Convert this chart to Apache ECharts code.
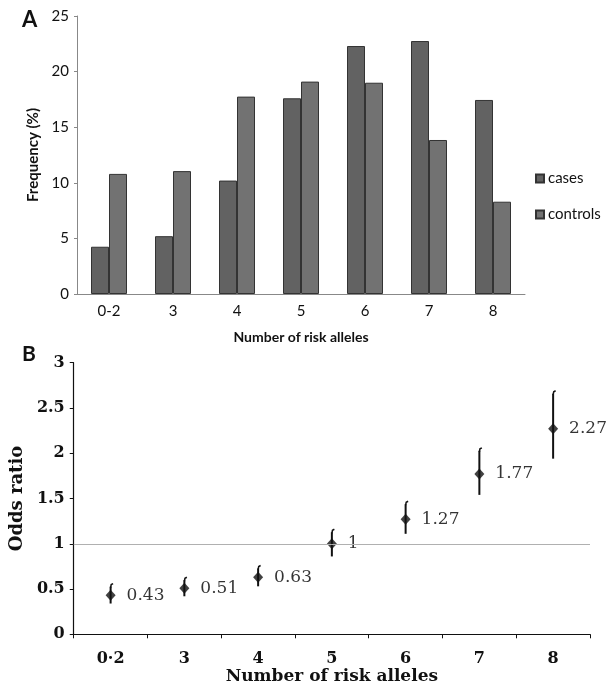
<!DOCTYPE html>
<html>
<head>
<meta charset="utf-8">
<script src="https://cdn.jsdelivr.net/npm/echarts@6/dist/echarts.min.js"></script>
<style>
html,body{margin:0;padding:0;background:#fff;}
#chart{width:611px;height:694px;}
</style>
</head>
<body>
<div id="chart"></div>
<script>
// ---- Data ----
const categories = ['0-2', '3', '4', '5', '6', '7', '8'];
const categoriesB = ['0·2', '3', '4', '5', '6', '7', '8'];
const casesFreq = [4.25, 5.2, 10.2, 17.6, 22.3, 22.75, 17.45];
const controlsFreq = [10.8, 11.05, 17.75, 19.1, 19.0, 13.85, 8.3];
const oddsRatio = [0.43, 0.51, 0.63, 1, 1.27, 1.77, 2.27];
const ciLow = [0.34, 0.42, 0.53, 0.86, 1.11, 1.54, 1.94];
const ciHigh = [0.56, 0.63, 0.76, 1.16, 1.47, 2.06, 2.69];
const freqTicks = [0, 5, 10, 15, 20, 25];
const orTicks = [0, 0.5, 1, 1.5, 2, 2.5, 3];

const sans = 'Lato';
const serif = 'DejaVu Serif';

const chart = echarts.init(document.getElementById('chart'), null, {renderer: 'canvas'});

const errData = categoriesB.map((c, i) => [i, ciLow[i], ciHigh[i]]);

chart.setOption({
  animation: false,
  backgroundColor: '#fff',
  grid: [
    {left: 77, right: 86, top: 16, bottom: 400},
    {left: 73, right: 21, top: 362.7, bottom: 59.7}
  ],
  legend: {
    data: ['cases', 'controls'],
    orient: 'vertical',
    left: 530,
    top: 166,
    itemWidth: 8,
    itemHeight: 8,
    itemGap: 21,
    icon: 'rect',
    textStyle: {fontFamily: sans, fontSize: 15, color: '#111', padding: [0, 0, 0, -1]}
  },
  xAxis: [
    {
      gridIndex: 0,
      type: 'category',
      data: categories,
      name: 'Number of risk alleles',
      nameLocation: 'middle',
      nameGap: 36,
      nameTextStyle: {fontFamily: sans, fontWeight: 'bold', fontSize: 14, color: '#111'},
      axisLine: {lineStyle: {color: '#888', width: 1}},
      axisTick: {show: false},
      axisLabel: {fontFamily: sans, fontSize: 15, color: '#111', margin: 10}
    },
    {
      gridIndex: 1,
      type: 'category',
      data: categoriesB,
      name: 'Number of risk alleles',
      nameLocation: 'middle',
      nameGap: 30,
      nameTextStyle: {fontFamily: serif, fontWeight: 'bold', fontSize: 17, color: '#111'},
      axisLine: {lineStyle: {color: '#111', width: 1.2}},
      axisTick: {show: true, inside: false, length: 4, alignWithLabel: false, lineStyle: {color: '#111'}},
      axisLabel: {fontFamily: serif, fontWeight: 'bold', fontSize: 16, color: '#111', margin: 17}
    }
  ],
  yAxis: [
    {
      gridIndex: 0,
      type: 'value',
      min: freqTicks[0],
      max: freqTicks[freqTicks.length - 1],
      interval: 5,
      name: 'Frequency (%)',
      nameLocation: 'middle',
      nameGap: 34,
      nameTextStyle: {fontFamily: sans, fontWeight: 'bold', fontSize: 15, color: '#111'},
      axisLine: {show: true, lineStyle: {color: '#888', width: 1}},
      axisTick: {show: true, length: 3, lineStyle: {color: '#888'}},
      splitLine: {show: false},
      axisLabel: {fontFamily: sans, fontSize: 15, color: '#111', margin: 8}
    },
    {
      gridIndex: 1,
      type: 'value',
      min: orTicks[0],
      max: orTicks[orTicks.length - 1],
      interval: 0.5,
      name: 'Odds ratio',
      nameLocation: 'middle',
      nameGap: 42,
      nameTextStyle: {fontFamily: serif, fontWeight: 'bold', fontSize: 18, color: '#111'},
      axisLine: {show: true, lineStyle: {color: '#111', width: 1.2}},
      axisTick: {show: true, length: 4, lineStyle: {color: '#111'}},
      splitLine: {show: false},
      axisLabel: {fontFamily: serif, fontWeight: 'bold', fontSize: 16, color: '#111', margin: 9}
    }
  ],
  series: [
    {
      name: 'cases',
      type: 'bar',
      xAxisIndex: 0,
      yAxisIndex: 0,
      data: casesFreq,
      barWidth: 18,
      barGap: '0%',
      itemStyle: {color: '#626262', borderColor: '#333', borderWidth: 1}
    },
    {
      name: 'controls',
      type: 'bar',
      xAxisIndex: 0,
      yAxisIndex: 0,
      data: controlsFreq,
      barWidth: 18,
      barGap: '0%',
      itemStyle: {color: '#727272', borderColor: '#333', borderWidth: 1}
    },
    {
      name: 'ci',
      type: 'custom',
      xAxisIndex: 1,
      yAxisIndex: 1,
      data: errData,
      encode: {x: 0, y: [1, 2]},
      renderItem: function (params, api) {
        const lo = api.coord([api.value(0), api.value(1)]);
        const hi = api.coord([api.value(0), api.value(2)]);
        return {
          type: 'group',
          children: [
            {type: 'line', shape: {x1: lo[0], y1: lo[1], x2: hi[0], y2: hi[1] + 3},
             style: {stroke: '#111', lineWidth: 2}},
            {type: 'polyline', shape: {points: [[hi[0], hi[1] + 4], [hi[0] + 0.6, hi[1] + 1], [hi[0] + 2.5, hi[1]]]},
             style: {stroke: '#111', lineWidth: 1.5, fill: null}}
          ]
        };
      },
      z: 3
    },
    {
      name: 'OR',
      type: 'scatter',
      xAxisIndex: 1,
      yAxisIndex: 1,
      data: oddsRatio,
      symbol: 'diamond',
      symbolSize: [10, 11],
      itemStyle: {color: '#111'},
      label: {
        show: true,
        position: 'right',
        distance: 11,
        fontFamily: serif,
        fontSize: 17,
        color: '#000',
        formatter: p => String(oddsRatio[p.dataIndex])
      },
      markLine: {
        silent: true,
        symbol: 'none',
        label: {show: false},
        lineStyle: {color: '#b0b0b0', type: 'solid', width: 1},
        data: [{yAxis: 1}]
      },
      z: 4
    }
  ],
  graphic: [
    {type: 'text', left: 22, top: 9, style: {text: 'A', font: 'bold 22px Lato', fill: '#111'}},
    {type: 'text', left: 22, top: 344, style: {text: 'B', font: 'bold 21px Lato', fill: '#111'}}
  ]
});
</script>
</body>
</html>
